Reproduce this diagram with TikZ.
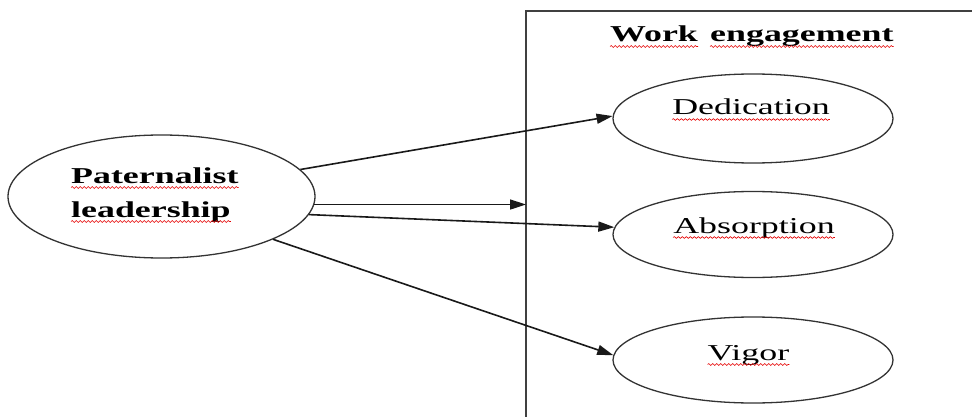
\documentclass[tikz,border=0pt]{standalone}
\usepackage{fontspec}
\setmainfont{Liberation Serif}
\newfontfamily\wideserif[FakeStretch=1.58]{Liberation Serif}
\usetikzlibrary{shapes.geometric,arrows.meta,decorations.pathmorphing}

\begin{document}
\begin{tikzpicture}[x=1pt,y=-1pt,
  oval/.style={ellipse, draw=black!80, line width=1.3pt, inner sep=0pt},
  lbl/.style={inner sep=0pt, font=\wideserif\fontsize{22.7}{27}\selectfont},
  blbl/.style={inner sep=0pt, font=\wideserif\bfseries\fontsize{22.7}{27}\selectfont},
  link/.style={draw=black!90, line width=1.6pt, -{Triangle[length=16pt,width=10pt]}},
  boxline/.style={draw=black!75, line width=1.5pt},
  squiggle/.style={draw=red!90!black, line width=0.6pt, decorate,
    decoration={snake, amplitude=0.9pt, segment length=4pt}},
]
\useasboundingbox (0,0) rectangle (972,417);

% frame around the outcome construct
\coordinate (boxbl) at (526,420);
\coordinate (boxtl) at (526,11);
\coordinate (boxtr) at (975,11);
\draw[boxline] (boxbl) -- (boxtl) -- (boxtr);

% ellipses
\node[oval, minimum width=307pt, minimum height=123pt] (pl) at (161.5,196.5) {};
\node[oval, minimum width=280pt, minimum height=89pt] (ded) at (753,118.5) {};
\node[oval, minimum width=280pt, minimum height=86pt] (abs) at (753,234.5) {};
\node[oval, minimum width=280pt, minimum height=86pt] (vig) at (753,360) {};

% labels
\node[blbl, anchor=base west] (w1) at (610,42) {Work};
\node[blbl, anchor=base west] (w2) at (710,42) {engagement};
\node[blbl, anchor=base west] (pat) at (71,183) {Paternalist};
\node[blbl, anchor=base west] (lead) at (71,217) {leadership};
\node[lbl, anchor=base] (tded) at (751,115) {Dedication};
\node[lbl, anchor=base] (tabs) at (754,233) {Absorption};
\node[lbl, anchor=base] (tvig) at (748.5,360) {Vigor};

% spell-check underlines
\foreach \w in {w1,w2,pat,lead,tded,tabs,tvig}
  \draw[squiggle] ([yshift=-4.5pt]\w.base west) -- ([yshift=-4.5pt]\w.base east);

% connectors
\draw[link] (pl.11.6) -- (ded.179.4);
\draw[link] (pl.-3.5) -- (pl.-3.5 -| boxtl);
\draw[link] (pl.-7.4) -- (abs.177.4);
\draw[link] (pl.-21) -- (vig.178);
\end{tikzpicture}
\end{document}
